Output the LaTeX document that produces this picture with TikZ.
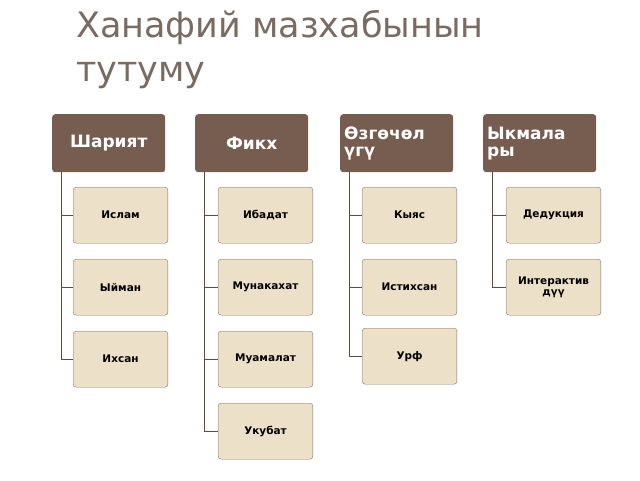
\documentclass[tikz,border=0pt]{standalone}
\usepackage{fontspec}
\setmainfont{DejaVu Sans}
\usetikzlibrary{positioning}
\definecolor{headbrown}{HTML}{765D50}
\definecolor{leafcream}{HTML}{EDE0C8}
\definecolor{leafline}{HTML}{8C6E5E}
\definecolor{titlegray}{HTML}{7A6A60}
\tikzset{
  headbox/.style={rectangle, rounded corners=3pt, fill=headbrown, text=white, font=\bfseries\fontsize{17}{17}\selectfont, minimum width=113pt, minimum height=58pt, inner sep=2pt, align=center, text width=105pt},
  leafbox/.style={rectangle, rounded corners=3pt, fill=leafcream, draw=leafline, font=\bfseries\fontsize{10.5}{11}\selectfont, minimum width=92pt, minimum height=56pt, align=center, text width=88pt},
  link/.style={draw=headbrown!80!black, line width=0.8pt}
}
\begin{document}
\begin{tikzpicture}[x=1pt,y=-1pt]
    \useasboundingbox (0,0) rectangle (640,480);
    %% Title
    \node[anchor=north west, text=titlegray, font=\fontsize{35}{44}\selectfont, align=left, inner sep=0pt] (title) at (76,10) {Ханафий мазхабынын\\тутуму};
    %% Headers
    \node[headbox, anchor=north west] (h1) at (52,114) {Шарият};
    \node[headbox, anchor=north west] (h2) at (195,114) {Фикх};
    \node[headbox, anchor=north west, align=left] (h3) at (340,114) {Өзгөчөл\\үгү};
    \node[headbox, anchor=north west, align=left] (h4) at (483,114) {Ыкмала\\ры};
    %% Leaves
    \node[leafbox, anchor=north west] (a1) at (73,187) {Ислам};
    \node[leafbox, anchor=north west] (a2) at (73,259) {Ыйман};
    \node[leafbox, anchor=north west] (a3) at (73,331) {Ихсан};
    \node[leafbox, anchor=north west] (b1) at (218,187) {Ибадат};
    \node[leafbox, anchor=north west] (b2) at (218,259) {Мунакахат};
    \node[leafbox, anchor=north west] (b3) at (218,331) {Муамалат};
    \node[leafbox, anchor=north west] (b4) at (218,403) {Укубат};
    \node[leafbox, anchor=north west] (c1) at (362,187) {Кыяс};
    \node[leafbox, anchor=north west] (c2) at (362,259) {Истихсан};
    \node[leafbox, anchor=north west] (c3) at (362,328) {Урф};
    \node[leafbox, anchor=north west] (d1) at (506,187) {Дедукция};
    \node[leafbox, anchor=north west] (d2) at (506,259) {Интерактив\\дүү};
    %% Connectors
    \coordinate (s1) at ([xshift=9pt]h1.south west);
    \coordinate (s2) at ([xshift=9pt]h2.south west);
    \coordinate (s3) at ([xshift=9pt]h3.south west);
    \coordinate (s4) at ([xshift=9pt]h4.south west);
    \foreach \s/\n in {s1/a1,s1/a2,s1/a3,s2/b1,s2/b2,s2/b3,s2/b4,s3/c1,s3/c2,s3/c3,s4/d1,s4/d2}
        \draw[link] (\s) |- (\n.west);
\end{tikzpicture}
\end{document}
